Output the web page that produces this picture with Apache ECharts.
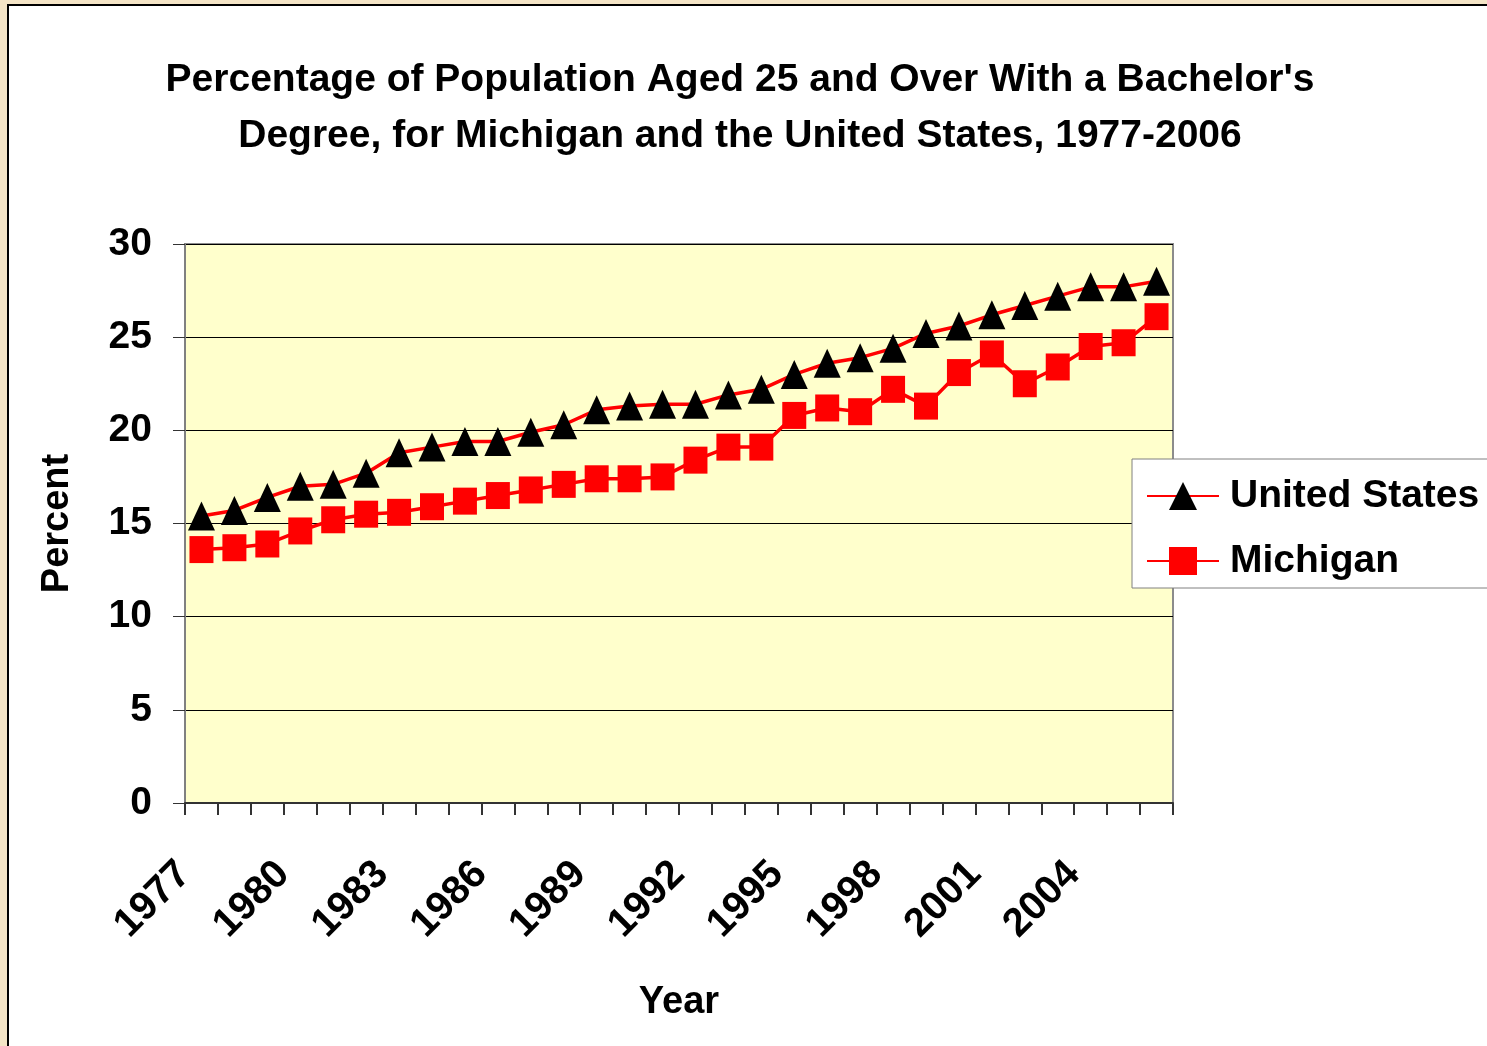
<!DOCTYPE html>
<html>
<head>
<meta charset="utf-8">
<title>Bachelor's Degree, Michigan and US</title>
<script src="https://cdn.jsdelivr.net/npm/echarts/dist/echarts.min.js"></script>
<style>
    html, body { margin: 0; padding: 0; background: #f4e4c6; }
    #chart { width: 1487px; height: 1046px; }
</style>
</head>
<body>
<div id="chart"></div>
<script>
// data
var years = ['1977', '1978', '1979', '1980', '1981', '1982', '1983', '1984', '1985', '1986',
    '1987', '1988', '1989', '1990', '1991', '1992', '1993', '1994', '1995', '1996',
    '1997', '1998', '1999', '2000', '2001', '2002', '2003', '2004', '2005', '2006'];
var usValues = [15.4, 15.7, 16.4, 17.0, 17.1, 17.7, 18.8, 19.1, 19.4, 19.4,
    19.9, 20.3, 21.1, 21.3, 21.4, 21.4, 21.9, 22.2, 23.0, 23.6,
    23.9, 24.4, 25.2, 25.6, 26.2, 26.7, 27.2, 27.7, 27.7, 28.0];
var miValues = [13.6, 13.7, 13.9, 14.6, 15.2, 15.5, 15.6, 15.9, 16.2, 16.5,
    16.8, 17.1, 17.4, 17.4, 17.5, 18.4, 19.1, 19.1, 20.8, 21.2,
    21.0, 22.2, 21.3, 23.1, 24.1, 22.5, 23.4, 24.5, 24.7, 26.1];
var yTicks = [0, 5, 10, 15, 20, 25, 30];

var font = '"Liberation Sans", Arial, sans-serif';

var myChart = echarts.init(document.getElementById('chart'));

var option = {
    animation: false,
    backgroundColor: '#f4e4c6',
    textStyle: {fontFamily: font},
    // white sheet with black edge over the tan frame
    graphic: [
        {
            type: 'rect',
            z: -10,
            shape: {x: 8, y: 5, width: 1600, height: 1200},
            style: {fill: '#ffffff', stroke: '#000000', lineWidth: 2}
        }
    ],
    title: {
        text: 'Percentage of Population Aged 25 and Over With a Bachelor\'s\nDegree, for Michigan and the United States, 1977-2006',
        left: 735,
        top: 47,
        textAlign: 'center',
        textStyle: {
            fontFamily: font,
            fontSize: 39,
            fontWeight: 'bold',
            lineHeight: 56,
            color: '#000'
        }
    },
    legend: {
        orient: 'vertical',
        left: 1132,
        top: 459,
        padding: [17, 400, 7, 14],
        itemGap: 25,
        itemWidth: 72,
        itemHeight: 35,
        backgroundColor: '#ffffff',
        borderColor: '#808080',
        borderWidth: 1,
        borderRadius: 0,
        textStyle: {
            fontFamily: font,
            fontSize: 39,
            fontWeight: 'bold',
            lineHeight: 40,
            color: '#000',
            padding: [0, 0, 0, 6]
        },
        data: ['United States', 'Michigan']
    },
    grid: {
        left: 185,
        top: 244,
        right: 314,
        bottom: 243,
        show: true,
        backgroundColor: '#ffffcc',
        borderColor: '#8c8c8c',
        borderWidth: 2
    },
    xAxis: {
        type: 'category',
        data: years,
        boundaryGap: true,
        name: 'Year',
        nameLocation: 'middle',
        nameGap: 181,
        nameTextStyle: {fontFamily: font, fontSize: 38, fontWeight: 'bold', color: '#000'},
        axisLine: {lineStyle: {color: '#333', width: 2}},
        axisTick: {show: true, interval: 0, length: 12, lineStyle: {color: '#333', width: 2}},
        axisLabel: {
            interval: 2,
            rotate: 45,
            margin: 48,
            padding: [0, 24, 0, 0],
            fontFamily: font,
            fontSize: 40,
            fontWeight: 'bold',
            color: '#000'
        },
        splitLine: {show: false}
    },
    yAxis: {
        type: 'value',
        min: yTicks[0],
        max: yTicks[yTicks.length - 1],
        interval: yTicks[1] - yTicks[0],
        name: 'Percent',
        nameLocation: 'middle',
        nameGap: 108,
        nameTextStyle: {fontFamily: font, fontSize: 38, fontWeight: 'bold', color: '#000'},
        axisLine: {show: true, lineStyle: {color: '#808080', width: 2}},
        axisTick: {show: true, length: 12, lineStyle: {color: '#333', width: 1}},
        axisLabel: {
            margin: 33,
            padding: [6, 0, 0, 0],
            fontFamily: font,
            fontSize: 39,
            fontWeight: 'bold',
            color: '#000'
        },
        splitLine: {lineStyle: {color: '#000', width: 1}}
    },
    series: [
        {
            name: 'United States',
            type: 'line',
            data: usValues,
            showAllSymbol: true,
            symbol: 'triangle',
            symbolSize: [27, 29],
            lineStyle: {color: '#ff0000', width: 3.5},
            itemStyle: {color: '#000000', borderWidth: 0}
        },
        {
            name: 'Michigan',
            type: 'line',
            data: miValues,
            showAllSymbol: true,
            symbol: 'rect',
            symbolSize: [24, 27],
            lineStyle: {color: '#ff0000', width: 3.5},
            itemStyle: {color: '#ff0000', borderWidth: 0}
        }
    ]
};

myChart.setOption(option);
</script>
</body>
</html>
